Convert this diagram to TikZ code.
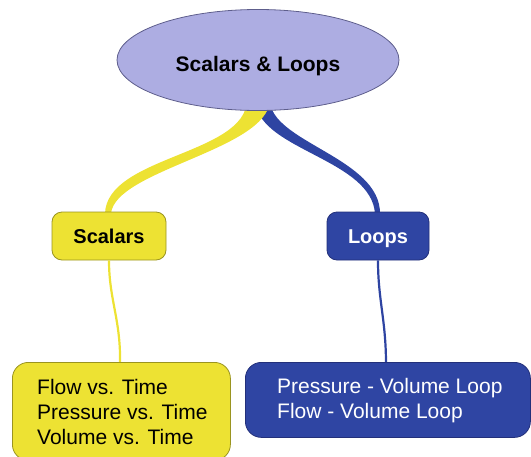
\documentclass[tikz,border=0pt]{standalone}
\usepackage{fontspec}
\setmainfont{Liberation Sans}
\usetikzlibrary{shapes.geometric,calc}
\definecolor{topfill}{HTML}{ADADE2}
\definecolor{topline}{HTML}{5E5E8C}
\definecolor{yelfill}{HTML}{EDE233}
\definecolor{yelline}{HTML}{9A9420}
\definecolor{bluefill}{HTML}{2F45A3}
\definecolor{blueline}{HTML}{23307A}
\definecolor{bluewire}{HTML}{2E44A2}
\tikzset{
  x=1pt, y=-1pt,
  topic/.style={ellipse, draw=topline, fill=topfill, line width=0.8pt,
    minimum width=282pt, minimum height=101pt, inner sep=0pt},
  yelbox/.style={draw=yelline, fill=yelfill, line width=0.8pt, inner sep=0pt},
  bluebox/.style={draw=blueline, fill=bluefill, line width=0.8pt, inner sep=0pt},
  label/.style={inner sep=0pt, anchor=base, font=\fontsize{20}{24}\selectfont\bfseries},
  body/.style={inner sep=0pt, align=left, anchor=base west,
    font=\fontsize{21}{25}\selectfont},
}
\begin{document}
\begin{tikzpicture}
\useasboundingbox (0,0) rectangle (531,456);
\clip (0,0) rectangle (531,456);

% tapered branches (drawn first, boxes sit on top)
\coordinate (yA) at (247,100);
\coordinate (yB) at (270,100);
\coordinate (bA) at (256,104);
\coordinate (bB) at (270,100);

\fill[bluewire] (bA) .. controls (262,150) and (372,160) .. (375,214)
  -- (380,214) .. controls (381,158) and (270,142) .. (bB) -- cycle;
\fill[yelfill] (yA) .. controls (246,155) and (106,156) .. (105,214)
  -- (111,214) .. controls (114,170) and (268,150) .. (yB) -- cycle;

% central topic
\node[topic] (top) at (258,60) {};
\node[label, font=\fontsize{21}{25}\selectfont\bfseries] (toptext) at (258,71)
  {Scalars \& Loops};

% second level
\node[yelbox, rounded corners=10pt, minimum width=114pt, minimum height=48pt]
  (scal) at (109,236) {};
\node[label] (scaltext) at (109,243) {Scalars};
\node[bluebox, rounded corners=10pt, minimum width=102pt, minimum height=48pt]
  (loop) at (378,236) {};
\node[label, white] (looptext) at (378,243) {Loops};

% thin branches
\draw[yelfill, line width=2.2pt] (scal.south) coordinate (s0)
  .. controls (109,300) and (121,320) .. (120,364) coordinate (s1);
\draw[bluewire, line width=2.2pt] (loop.south) coordinate (l0)
  .. controls (378,300) and (386,320) .. (386,364) coordinate (l1);

% leaf boxes
\node[yelbox, rounded corners=16pt, minimum width=218pt, minimum height=98pt,
  anchor=north west] (sleaf) at (12,362) {};
\node[body] (stext) at (37,444)
  {Flow vs. Time\\Pressure vs. Time\\Volume vs. Time};

\node[bluebox, rounded corners=16pt, minimum width=285pt, minimum height=75pt,
  anchor=north west] (lleaf) at (245,362) {};
\node[body, white] (ltext) at (277,418)
  {Pressure - Volume Loop\\Flow - Volume Loop};
\end{tikzpicture}
\end{document}
